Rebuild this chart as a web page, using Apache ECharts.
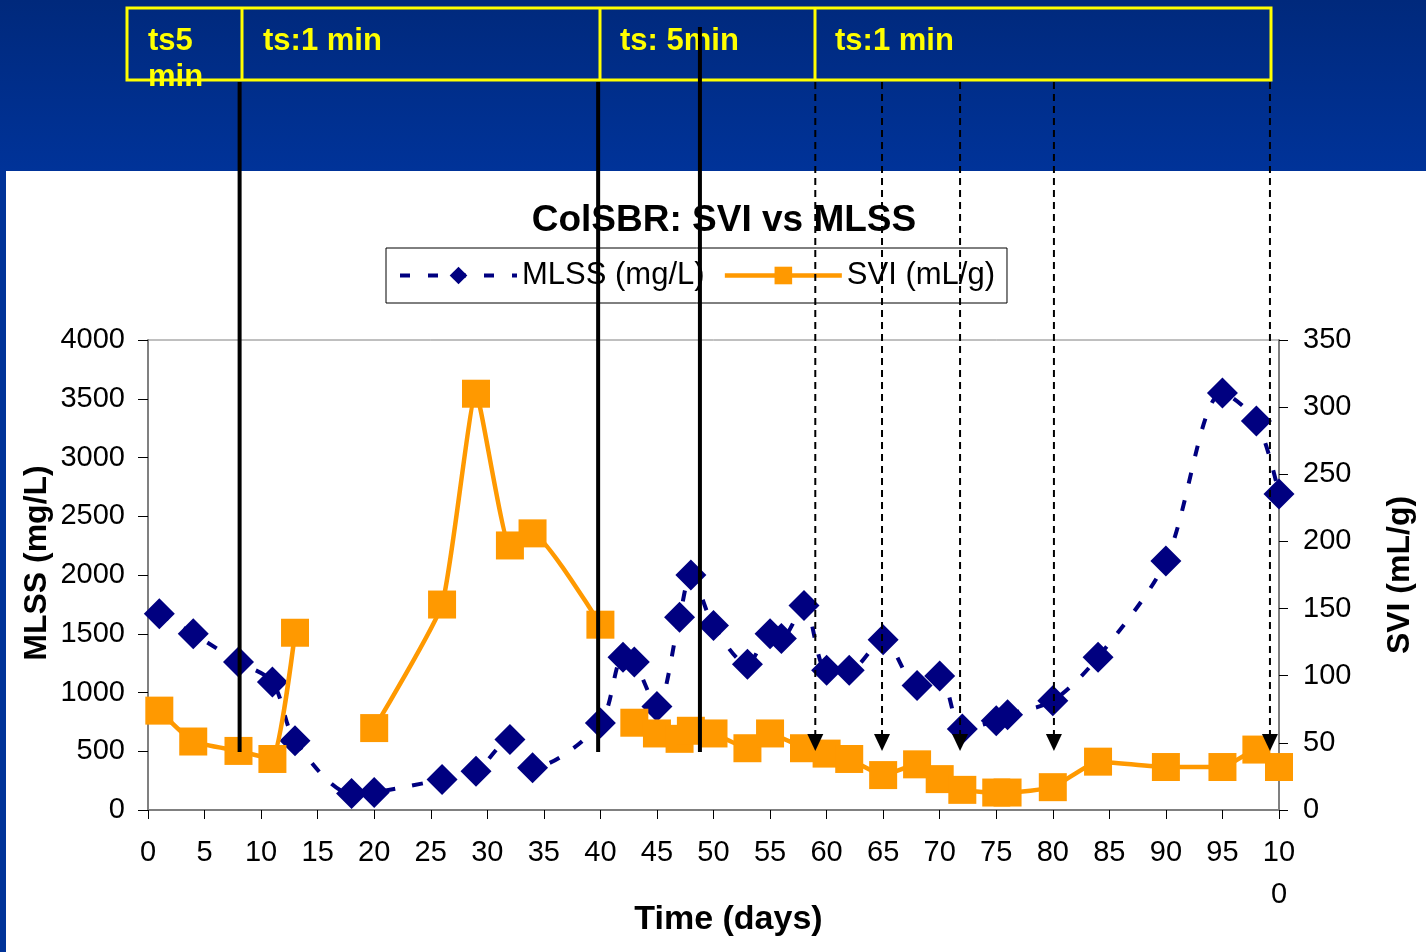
<!DOCTYPE html>
<html>
<head>
<meta charset="utf-8">
<script src="https://cdn.jsdelivr.net/npm/echarts@6/dist/echarts.min.js"></script>
<style>
  html, body { margin: 0; padding: 0; background: #fff; }
  #chart { width: 1426px; height: 952px; }
</style>
</head>
<body>
<div id="chart"></div>
<script>
// MLSS samples (mg/L), left axis
const mlssDays = [1, 4, 8, 11, 13, 18, 20, 26, 29, 32, 34, 40, 42, 43, 45, 47, 48, 50, 53, 55, 56, 58, 60, 62, 65, 68, 70, 72, 75, 76, 80, 84, 90, 95, 98, 100]
const mlssValues = [1670, 1500, 1260, 1090, 590, 140, 150, 260, 330, 600, 360, 740, 1300, 1260, 880, 1640, 2000, 1570, 1240, 1500, 1460, 1740, 1190, 1190, 1450, 1060, 1140, 690, 760, 810, 930, 1300, 2120, 3550, 3310, 2690]

// SVI samples (mL/g), right axis; null = not measured (line breaks)
const sviDays = [1, 4, 8, 11, 13, 18, 20, 26, 29, 32, 34, 40, 42, 43, 45, 47, 48, 50, 53, 55, 58, 60, 62, 65, 68, 70, 72, 75, 76, 80, 84, 90, 95, 98, 100]
const sviValues = [74, 51, 44, 38, 132, null, 61, 153, 310, 197, 206, 138, null, 65, 57, 53, 59, 57, 46, 57, 46, 42, 38, 26, 34, 23, 15, 13, 13, 17, 36, 32, 32, 45, 32]

// settling-time change markers (day positions)
const solidMarkerDays = [8.1, 39.8, 48.8]
const dashedMarkerDays = [59, 64.9, 71.8, 80.1, 99.2]

// header labels
const headerLabels = ['ts5', 'ts:1 min', 'ts: 5min', 'ts:1 min']

const FONT = "'Liberation Sans', Arial, sans-serif"
const NAVY = '#000080'
const ORANGE = '#ff9900'

const chart = echarts.init(document.getElementById('chart'))

const axisTitle = { fontFamily: FONT, fontSize: 32, fontWeight: 'bold', color: '#000' }
const tickText = { fontFamily: FONT, fontSize: 29, color: '#000' }
const plain = (v) => String(v)

const option = {
  backgroundColor: '#ffffff',
  animation: false,
  title: {
    text: 'ColSBR: SVI vs MLSS',
    left: 719,
    top: 197,
    textAlign: 'center',
    textStyle: { fontFamily: FONT, fontSize: 37, fontWeight: 'bold', color: '#000' },
  },
  legend: {
    left: 386,
    top: 248,
    padding: [12, 12, 12, 12],
    borderColor: '#000',
    borderWidth: 1,
    itemWidth: 117,
    itemHeight: 22,
    itemGap: 18,
    textStyle: { fontFamily: FONT, fontSize: 31, color: '#000' },
    data: [
      { name: 'MLSS (mg/L)', lineStyle: { width: 4, type: [10, 18], color: NAVY } },
      { name: 'SVI (mL/g)', lineStyle: { width: 4.5, color: ORANGE } },
    ],
  },
  grid: {
    left: 148,
    right: 147,
    top: 340,
    bottom: 142,
    show: true,
    borderColor: '#808080',
    borderWidth: 1,
  },
  xAxis: {
    type: 'value',
    min: 0,
    max: 100,
    interval: 5,
    name: 'Time (days)',
    nameLocation: 'middle',
    nameGap: 93,
    nameMoveOverlap: false,
    nameTextStyle: { ...axisTitle, fontSize: 34, padding: [0, 0, 0, 30] },
    axisLine: { lineStyle: { color: '#808080', width: 2 } },
    axisTick: { length: 9, lineStyle: { color: '#000' } },
    splitLine: { show: false },
    axisLabel: {
      ...tickText,
      margin: 22,
      lineHeight: 42,
      formatter: (v) => (v === 100 ? '10\n0' : String(v)),
    },
  },
  yAxis: [
    {
      type: 'value',
      position: 'left',
      min: 0,
      max: 4000,
      interval: 500,
      name: 'MLSS (mg/L)',
      nameLocation: 'middle',
      nameRotate: 90,
      nameGap: 95,
      nameMoveOverlap: false,
      nameTextStyle: { ...axisTitle, padding: [0, 0, 0, 24] },
      axisLine: { show: true, lineStyle: { color: '#808080', width: 2 } },
      axisTick: { show: true, length: 10, lineStyle: { color: '#000' } },
      splitLine: { show: false },
      axisLabel: { ...tickText, margin: 23, formatter: plain },
    },
    {
      type: 'value',
      position: 'right',
      min: 0,
      max: 350,
      interval: 50,
      name: 'SVI (mL/g)',
      nameLocation: 'middle',
      nameRotate: 90,
      nameGap: 105,
      nameMoveOverlap: false,
      nameTextStyle: axisTitle,
      axisLine: { show: true, lineStyle: { color: '#808080', width: 2 } },
      axisTick: { show: true, length: 9, lineStyle: { color: '#000' } },
      splitLine: { show: false },
      axisLabel: { ...tickText, margin: 24, formatter: plain },
    },
  ],
  series: [
    {
      name: 'MLSS (mg/L)',
      type: 'line',
      yAxisIndex: 0,
      data: mlssDays.map((d, i) => [d, mlssValues[i]]),
      symbol: 'diamond',
      symbolSize: 31,
      smooth: 0.3,
      lineStyle: { color: NAVY, width: 4, type: [11, 17] },
      itemStyle: { color: NAVY },
      z: 2,
    },
    {
      name: 'SVI (mL/g)',
      type: 'line',
      yAxisIndex: 1,
      data: sviDays.map((d, i) => [d, sviValues[i] === null ? '-' : sviValues[i]]),
      connectNulls: false,
      symbol: 'rect',
      symbolSize: 28,
      smooth: 0.15,
      lineStyle: { color: ORANGE, width: 4.5 },
      itemStyle: { color: ORANGE },
      z: 3,
    },
  ],
}

chart.setOption(option)

// overlay: slide banner, settling-time box and marker lines
const px = (day) => chart.convertToPixel({ xAxisIndex: 0 }, day)
const headerFont = 'bold 31px ' + FONT
const graphics = [
  {
    type: 'rect',
    z: 0,
    shape: { x: 0, y: 0, width: 1426, height: 171 },
    style: {
      fill: new echarts.graphic.LinearGradient(0, 0, 0, 1, [
        { offset: 0, color: '#00297c' },
        { offset: 1, color: '#003399' },
      ]),
    },
  },
  { type: 'rect', z: 0, shape: { x: 0, y: 171, width: 6, height: 781 }, style: { fill: '#003399' } },
  {
    type: 'rect',
    z: 1,
    shape: { x: 127, y: 8, width: 1144, height: 72 },
    style: { fill: 'none', stroke: '#ffff00', lineWidth: 3 },
  },
]
;[242, 600, 815].forEach((x) => {
  graphics.push({
    type: 'line',
    z: 1,
    shape: { x1: x, y1: 8, x2: x, y2: 80 },
    style: { stroke: '#ffff00', lineWidth: 3 },
  })
})
const headerPos = [[148, 41], [263, 41], [620, 41], [835, 41]]
headerLabels.forEach((t, i) => {
  graphics.push({
    type: 'text',
    z: 2,
    x: headerPos[i][0],
    y: headerPos[i][1],
    style: { text: t, font: headerFont, fill: '#ffff00', verticalAlign: 'middle' },
  })
})
graphics.push({
  type: 'text',
  z: 2,
  x: 148,
  y: 77,
  style: { text: 'min', font: headerFont, fill: '#ffff00', verticalAlign: 'middle' },
})

const solidTops = [82, 82, 27]
solidMarkerDays.forEach((d, i) => {
  const x = px(d)
  graphics.push({
    type: 'line',
    z: 100,
    shape: { x1: x, y1: solidTops[i], x2: x, y2: 752 },
    style: { stroke: '#000', lineWidth: 4 },
  })
})
dashedMarkerDays.forEach((d) => {
  const x = px(d)
  graphics.push({
    type: 'line',
    z: 100,
    shape: { x1: x, y1: 82, x2: x, y2: 736 },
    style: { stroke: '#000', lineWidth: 2, lineDash: [7, 5] },
  })
  graphics.push({
    type: 'polygon',
    z: 100,
    shape: { points: [[x - 8, 734], [x + 8, 734], [x, 751]] },
    style: { fill: '#000' },
  })
})

chart.setOption({ graphic: graphics })
</script>
</body>
</html>
